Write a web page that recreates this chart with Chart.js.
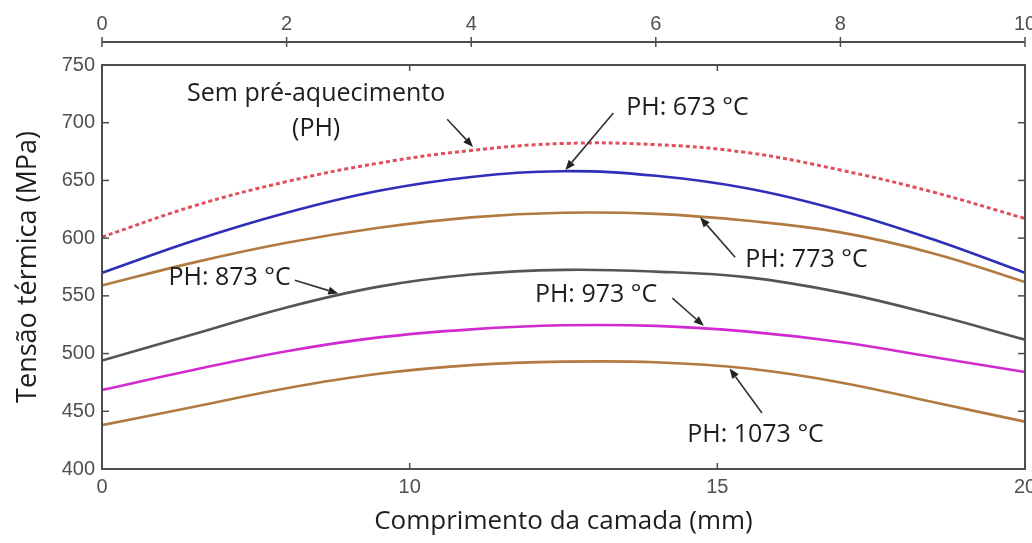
<!DOCTYPE html>
<html>
<head>
<meta charset="utf-8">
<script src="https://cdn.jsdelivr.net/npm/chart.js@4"></script>
<style>
  html, body { margin: 0; padding: 0; background: #fff; }
  canvas { display: block; }
</style>
</head>
<body>
<canvas id="chart" width="1032" height="543"></canvas>
<script>
// Positions along the layer, in units of the top axis (0–10)
const xPos = [0, 1, 2, 3, 4, 5, 6, 7, 8, 9, 10];

// Thermal stress (MPa) for each preheating condition
const semPH  = [601, 628, 649, 665, 676, 682, 681, 674, 659, 640, 617];
const ph673  = [570, 598, 622, 641, 653, 658, 654, 643, 624, 599, 570];
const ph773  = [559, 579, 596, 609, 618, 622, 621, 615, 605, 587, 562];
const ph873  = [494, 517, 540, 558, 568.5, 572.5, 571, 566, 553, 534, 512];
const ph973  = [468.5, 486, 502, 514, 521, 524.5, 524, 519, 510, 497, 484];
const ph1073 = [438, 454, 470, 482.5, 490, 493, 492.5, 487, 475, 458, 441];

// Tick labels
const topTicks = [0, 2, 4, 6, 8, 10];
const bottomTickLabels = ['0', '10', '15', '20'];
const bottomTickPos = [0, 10 / 3, 20 / 3, 10];

// Callout texts, placed in data units (x on top axis, y in MPa)
const notes = [
  { text: 'Sem pré-aquecimento', x: 2.32, y: 725.0, align: 'center' },
  { text: '(PH)',                x: 2.32, y: 695.0, align: 'center' },
  { text: 'PH: 673 °C',          x: 5.68, y: 712.5, align: 'left' },
  { text: 'PH: 773 °C',          x: 6.97, y: 581.0, align: 'left' },
  { text: 'PH: 873 °C',          x: 0.72, y: 565.5, align: 'left' },
  { text: 'PH: 973 °C',          x: 4.69, y: 550.5, align: 'left' },
  { text: 'PH: 1073 °C',         x: 6.34, y: 429.5, align: 'left' }
];

// Leader arrows: from tail to head, data units
const arrows = [
  { from: [3.74, 703.0], to: [4.02, 679.0] },
  { from: [5.54, 708.5], to: [5.02, 659.0] },
  { from: [6.86, 583.5], to: [6.48, 618.0] },
  { from: [2.09, 563.5], to: [2.56, 552.0] },
  { from: [6.18, 548.0], to: [6.52, 524.0] },
  { from: [7.15, 448.5], to: [6.80, 487.0] }
];

const axisColor = '#4d4d4d';
const tickFont = { family: '"Liberation Sans", Arial, sans-serif', size: 20 };

function series(values, color, extra) {
  return Object.assign({
    data: xPos.map((x, i) => ({ x: x, y: values[i] })),
    xAxisID: 'x2',
    yAxisID: 'y',
    borderColor: color,
    borderWidth: 2.6,
    pointRadius: 0,
    tension: 0.4,
    fill: false
  }, extra || {});
}

const framePlugin = {
  id: 'frame',
  afterDatasetsDraw(chart) {
    const { ctx, chartArea: a, scales } = chart;
    const seg = (x1, y1, x2, y2) => {
      ctx.beginPath(); ctx.moveTo(x1, y1); ctx.lineTo(x2, y2); ctx.stroke();
    };
    ctx.save();
    ctx.strokeStyle = axisColor;
    ctx.lineWidth = 2;
    ctx.strokeRect(a.left, a.top, a.right - a.left, a.bottom - a.top);

    // inward tick marks on the frame
    ctx.lineWidth = 1.5;
    scales.y.ticks.forEach(t => {
      const py = scales.y.getPixelForValue(t.value);
      seg(a.left, py, a.left + 7, py);
      seg(a.right, py, a.right - 7, py);
    });
    scales.x.ticks.forEach(t => {
      const px = scales.x.getPixelForValue(t.value);
      seg(px, a.bottom, px, a.bottom - 6);
      seg(px, a.top, px, a.top + 6);
    });

    // detached top axis line with crossing ticks
    const ly = a.top - 23;
    ctx.lineWidth = 2;
    seg(a.left, ly, a.right, ly);
    ctx.lineWidth = 1.5;
    scales.x2.ticks.forEach(t => {
      const px = scales.x2.getPixelForValue(t.value);
      seg(px, ly - 5, px, ly + 5);
    });

    // callout texts
    ctx.fillStyle = '#1e1e1e';
    ctx.font = '25px "Open Sans", sans-serif';
    ctx.textBaseline = 'middle';
    notes.forEach(n => {
      ctx.textAlign = n.align;
      ctx.fillText(n.text, scales.x2.getPixelForValue(n.x), scales.y.getPixelForValue(n.y));
    });

    // leader arrows
    ctx.strokeStyle = '#333';
    ctx.fillStyle = '#222';
    ctx.lineWidth = 1.6;
    arrows.forEach(ar => {
      const x1 = scales.x2.getPixelForValue(ar.from[0]);
      const y1 = scales.y.getPixelForValue(ar.from[1]);
      const x2 = scales.x2.getPixelForValue(ar.to[0]);
      const y2 = scales.y.getPixelForValue(ar.to[1]);
      const ang = Math.atan2(y2 - y1, x2 - x1);
      const len = 10, half = 4;
      const bx = x2 - len * Math.cos(ang), by = y2 - len * Math.sin(ang);
      seg(x1, y1, bx, by);
      ctx.beginPath();
      ctx.moveTo(x2, y2);
      ctx.lineTo(bx + half * Math.sin(ang), by - half * Math.cos(ang));
      ctx.lineTo(bx - half * Math.sin(ang), by + half * Math.cos(ang));
      ctx.closePath();
      ctx.fill();
    });
    ctx.restore();
  }
};

new Chart(document.getElementById('chart'), {
  type: 'line',
  data: {
    datasets: [
      series(semPH,  '#e0505c', { borderDash: [4, 3], borderWidth: 3 }),
      series(ph673,  '#2e2eb8'),
      series(ph773,  '#b27a40'),
      series(ph873,  '#555555'),
      series(ph973,  '#d02ad0'),
      series(ph1073, '#b27a40')
    ]
  },
  options: {
    responsive: false,
    animation: false,
    layout: { padding: { left: 0, right: 7, top: 0, bottom: 0 } },
    plugins: { legend: { display: false }, tooltip: { enabled: false } },
    scales: {
      x2: {
        type: 'linear',
        position: 'top',
        min: 0, max: 10,
        afterBuildTicks: s => { s.ticks = topTicks.map(v => ({ value: v })); },
        afterFit: s => { s.height = 65; s.paddingLeft = 0; s.paddingRight = 0; },
        grid: { display: false, drawTicks: false },
        border: { display: false },
        ticks: { color: '#505050', font: tickFont, padding: 29, maxRotation: 0 }
      },
      x: {
        type: 'linear',
        position: 'bottom',
        min: 0, max: 10,
        afterBuildTicks: s => { s.ticks = bottomTickPos.map(v => ({ value: v })); },
        afterFit: s => { s.height = 74; s.paddingLeft = 0; s.paddingRight = 0; },
        grid: { display: false, drawTicks: false },
        border: { display: false },
        ticks: {
          color: '#505050', font: tickFont, padding: 6, maxRotation: 0,
          callback: (v, i) => bottomTickLabels[i]
        },
        title: {
          display: true,
          text: 'Comprimento da camada (mm)',
          color: '#1e1e1e',
          font: { family: '"Open Sans", sans-serif', size: 26 },
          padding: { top: 0, bottom: 6 }
        }
      },
      y: {
        type: 'linear',
        position: 'left',
        min: 400, max: 750,
        ticks: { stepSize: 50, color: '#505050', font: tickFont, padding: 7 },
        afterFit: s => { s.width = 102; },
        grid: { display: false, drawTicks: false },
        border: { display: false },
        title: {
          display: true,
          text: 'Tensão térmica (MPa)',
          color: '#1e1e1e',
          font: { family: '"Open Sans", sans-serif', size: 27 },
          padding: { top: 12, bottom: 0 }
        }
      }
    }
  },
  plugins: [framePlugin]
});
</script>
</body>
</html>
